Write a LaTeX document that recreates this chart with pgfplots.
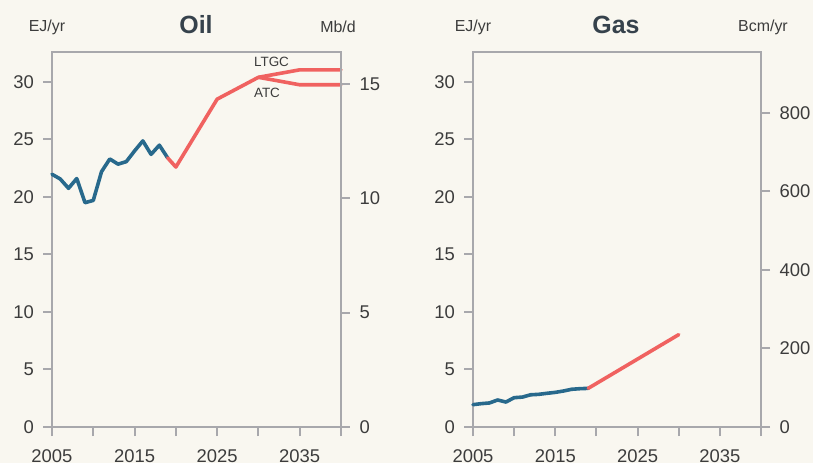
\documentclass[border=0pt]{standalone}
\usepackage{fontspec}
\setmainfont{Liberation Sans}
\usepackage{pgfplots}
\pgfplotsset{compat=1.18}
\definecolor{bg}{RGB}{249,247,240}
\definecolor{axgray}{RGB}{168,168,172}
\definecolor{txt}{RGB}{60,60,60}
\definecolor{ttl}{RGB}{54,66,76}
\definecolor{hblue}{RGB}{40,105,140}
\definecolor{pred}{RGB}{240,98,96}
\begin{document}
\begin{tikzpicture}
\useasboundingbox (0bp,0bp) rectangle (813bp,463bp);
\fill[bg] (0bp,0bp) rectangle (813bp,463bp);
\pgfplotsset{
  base/.style={scale only axis, height=375bp, xmin=2005, xmax=2040,
    axis line style={axgray, line width=2bp},
    every tick/.style={axgray, line width=2bp},
    tick align=outside, major tick length=9bp,
    tick label style={font=\fontsize{18.5}{19}\selectfont, text=txt},
    /pgf/number format/assume math mode=true,
    /pgf/number format/1000 sep={},
    clip=false},
  mainax/.style={base, axis lines=box, ymin=0, ymax=32.6,
    xtick={2005,2010,...,2040}, xticklabels={2005,,2015,,2025,,2035,},
    ytick={0,5,...,30}, xtick pos=lower, ytick pos=left,
    yticklabel style={xshift=-5.5bp},
    xticklabel style={yshift=-10bp}},
  rightax/.style={base, axis x line=none, axis y line*=right,
    yticklabel style={xshift=6bp}},
  hist/.style={hblue, line width=3.6bp, line join=round, line cap=round},
  proj/.style={pred, line width=3.6bp, line join=round, line cap=round}
}
% ---------- Oil ----------
\begin{axis}[mainax, at={(52bp,36bp)}, anchor=south west, width=289bp]
\addplot[hist] coordinates {(2005,21.97) (2006,21.56) (2007,20.75) (2008,21.6) (2009,19.5) (2010,19.7) (2011,22.2) (2012,23.3) (2013,22.85) (2014,23.07) (2015,24.0) (2016,24.87) (2017,23.7) (2018,24.5) (2019,23.4)};
\addplot[proj] coordinates {(2019,23.4) (2020,22.6) (2025,28.5) (2030,30.4) (2035,31.05) (2040,31.05)};
\addplot[proj] coordinates {(2030,30.4) (2035,29.75) (2040,29.75)};
\end{axis}
\begin{axis}[rightax, at={(52bp,36bp)}, anchor=south west, width=289bp, ymin=0, ymax=16.4, ytick={0,5,10,15}]
\addplot[draw=none] coordinates {(2005,0) (2040,0)};
\end{axis}
% ---------- Gas ----------
\begin{axis}[mainax, at={(473bp,36bp)}, anchor=south west, width=288bp]
\addplot[hist] coordinates {(2005,1.94) (2006,2.03) (2007,2.09) (2008,2.35) (2009,2.17) (2010,2.55) (2011,2.6) (2012,2.8) (2013,2.84) (2014,2.93) (2015,3.01) (2016,3.13) (2017,3.28) (2018,3.33) (2019,3.36)};
\addplot[proj] coordinates {(2019,3.36) (2030,8.03)};
\end{axis}
\begin{axis}[rightax, at={(473bp,36bp)}, anchor=south west, width=288bp, ymin=0, ymax=955, ytick={0,200,400,600,800}]
\addplot[draw=none] coordinates {(2005,0) (2040,0)};
\end{axis}
% ---------- Texts ----------
\node[text=ttl, font=\fontsize{25}{26}\selectfont\bfseries] at (196bp,438bp) {Oil};
\node[text=ttl, font=\fontsize{25}{26}\selectfont\bfseries] at (616bp,438bp) {Gas};
\node[text=txt, font=\fontsize{16}{17}\selectfont] at (47bp,436bp) {EJ/yr};
\node[text=txt, font=\fontsize{16}{17}\selectfont] at (338bp,436bp) {Mb/d};
\node[text=txt, font=\fontsize{16}{17}\selectfont] at (473bp,436bp) {EJ/yr};
\node[text=txt, font=\fontsize{16}{17}\selectfont] at (763bp,436bp) {Bcm/yr};
\node[text=txt, font=\fontsize{13.5}{14}\selectfont] at (271.5bp,401bp) {LTGC};
\node[text=txt, font=\fontsize{13.5}{14}\selectfont] at (267bp,370bp) {ATC};
\end{tikzpicture}
\end{document}
